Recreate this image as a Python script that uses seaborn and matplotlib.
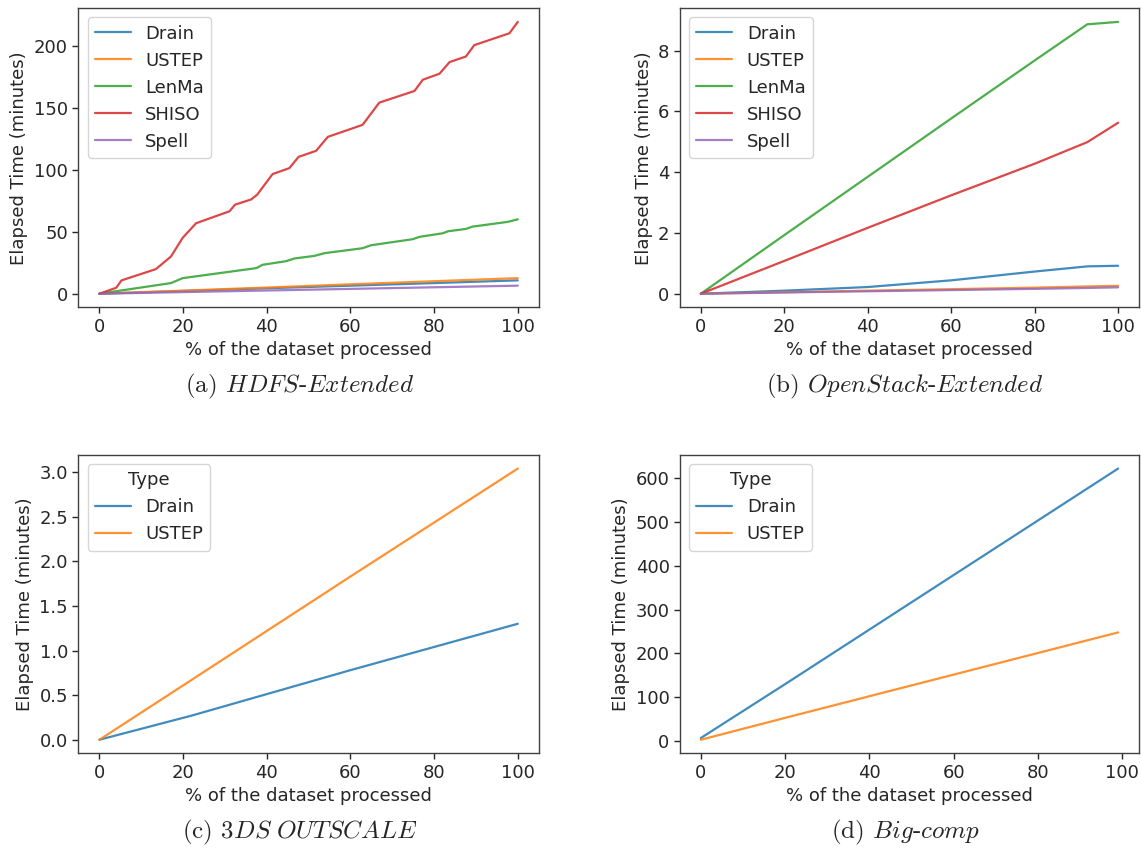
import numpy as np
import pandas as pd
import matplotlib
matplotlib.use("Agg")
import matplotlib.pyplot as plt
import seaborn as sns

# ---------------- data ----------------
# (a) HDFS-Extended
a_shiso_x = [0, 4.0, 5.3, 13.5, 17.1, 19.9, 23.1, 31.1, 32.4, 36.3, 37.7, 41.4, 45.4, 47.6,
             51.8, 54.6, 62.9, 66.9, 75.3, 77.3, 81.3, 83.7, 87.6, 89.6, 98.0, 100]
a_shiso_y = [0, 4.8, 10.8, 19.9, 30.1, 45.2, 57.0, 66.7, 72.0, 76.3, 80.1, 96.8, 101.6, 110.7,
             115.6, 126.9, 136.6, 154.6, 164.0, 173.1, 178.0, 187.4, 191.9, 201.1, 210.7, 219.9]
a_lenma_x = [0, 17.1, 19.9, 37.5, 39.0, 44.6, 46.6, 51.4, 53.8, 62.9, 64.9, 74.9, 76.5,
             82.1, 83.3, 87.6, 89.2, 97.6, 100]
a_lenma_y = [0, 8.6, 12.6, 20.7, 23.4, 26.3, 28.5, 30.6, 32.8, 36.8, 39.2, 44.1, 46.0,
             48.9, 50.5, 52.4, 54.3, 58.1, 60.2]
a_x = [0, 20, 40, 60, 80, 100]
a_drain_y = [0, 2.2, 4.4, 6.5, 8.6, 10.8]
a_ustep_y = [0, 2.5, 5.0, 7.6, 10.1, 12.6]
a_spell_y = [0, 1.3, 2.6, 3.9, 5.2, 6.5]

# (b) OpenStack-Extended
b_x = [0, 20, 40, 60, 80, 92.6, 100]
b_drain_y = [0, 0.10, 0.22, 0.44, 0.73, 0.90, 0.92]
b_ustep_y = [0, 0.05, 0.10, 0.15, 0.20, 0.24, 0.26]
b_lenma_y = [0, 1.93, 3.85, 5.77, 7.68, 8.87, 8.95]
b_shiso_y = [0, 1.08, 2.17, 3.24, 4.28, 4.99, 5.63]
b_spell_y = [0, 0.04, 0.08, 0.12, 0.16, 0.19, 0.21]

# (c) 3DS OUTSCALE
c_x = [0, 22, 60, 100]
c_drain_y = [0, 0.27, 0.78, 1.30]
c_ustep_y = [0, 0.67, 1.83, 3.04]

# (d) Big-comp
d_x = [0, 20, 99]
d_drain_y = [7, 130, 622]
d_ustep_y = [3, 53, 248]

methods5 = ["Drain", "USTEP", "LenMa", "SHISO", "Spell"]
methods2 = ["Drain", "USTEP"]
captions = [r"(a) $\mathit{HDFS}$-$\mathit{Extended}$",
            r"(b) $\mathit{OpenStack}$-$\mathit{Extended}$",
            r"(c) $\mathit{3DS\ OUTSCALE}$",
            r"(d) $\mathit{Big}$-$\mathit{comp}$"]
xlabel = "% of the dataset processed"
ylabel = "Elapsed Time (minutes)"


def long_df(series):
    rows = []
    for name, xs, ys in series:
        for x, y in zip(xs, ys):
            rows.append({"x": x, "y": y, "Type": name})
    return pd.DataFrame(rows)


df_a = long_df([("Drain", a_x, a_drain_y), ("USTEP", a_x, a_ustep_y),
                ("LenMa", a_lenma_x, a_lenma_y), ("SHISO", a_shiso_x, a_shiso_y),
                ("Spell", a_x, a_spell_y)])
df_b = long_df([("Drain", b_x, b_drain_y), ("USTEP", b_x, b_ustep_y),
                ("LenMa", b_x, b_lenma_y), ("SHISO", b_x, b_shiso_y),
                ("Spell", b_x, b_spell_y)])
df_c = long_df([("Drain", c_x, c_drain_y), ("USTEP", c_x, c_ustep_y)])
df_d = long_df([("Drain", d_x, d_drain_y), ("USTEP", d_x, d_ustep_y)])

# ---------------- style ----------------
sns.set_style("ticks")
plt.rcParams["font.family"] = ["DejaVu Sans"]
plt.rcParams["mathtext.fontset"] = "cm"
plt.rcParams["axes.edgecolor"] = ".25"
plt.rcParams["axes.linewidth"] = 1.0
FS = 13

W, H = 1141, 848
fig = plt.figure(figsize=(W / 100, H / 100), dpi=100)


def add_ax(l, t, r, b):
    return fig.add_axes([l / W, 1 - b / H, (r - l) / W, (b - t) / H])


boxes = [(78.5, 8.3, 538.7, 307.3), (680, 8.3, 1139, 307.3),
         (78.5, 455, 538.7, 753.3), (680, 455, 1139, 753.3)]
dfs = [df_a, df_b, df_c, df_d]
orders = [methods5, methods5, methods2, methods2]
pal = sns.color_palette("tab10")

for i, (box, df, order) in enumerate(zip(boxes, dfs, orders)):
    ax = add_ax(*box)
    sns.lineplot(data=df, x="x", y="y", hue="Type", hue_order=order,
                 palette=pal[:len(order)], ax=ax, linewidth=1.6, alpha=0.85)
    ax.set_xlabel(xlabel, fontsize=FS)
    ax.set_ylabel(ylabel, fontsize=FS)
    ax.tick_params(labelsize=FS, width=1.0, length=4)
    ax.set_xticks([0, 20, 40, 60, 80, 100])
    leg = ax.legend(loc="upper left", fontsize=FS, title=("Type" if i >= 2 else None),
                    title_fontsize=FS)
    for s in ax.spines.values():
        s.set_visible(True)

cap_pos = [(300, 386), (905, 386), (300, 832), (905, 832)]
for (cx, cy), cap in zip(cap_pos, captions):
    fig.text(cx / W, 1 - cy / H, cap, ha="center", va="center",
             fontsize=18, family="cmr10")

fig.savefig("out.png", dpi=100)
